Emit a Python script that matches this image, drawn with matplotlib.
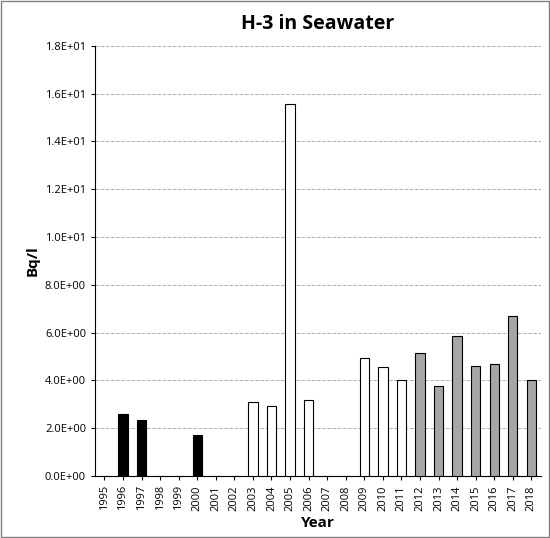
import numpy as np
import matplotlib.pyplot as plt

years = list(range(1995, 2019))
values = [0, 2.6, 2.35, 0, 0, 1.7, 0, 0, 3.1, 2.95, 15.55, 3.2, 0, 0,
          4.95, 4.55, 4.0, 5.15, 3.75, 5.85, 4.6, 4.7, 6.7, 4.0]

def bar_color(y):
    if y <= 2000:
        return 'black'
    if y <= 2011:
        return 'white'
    return '#a6a6a6'

def sci(v):
    if v == 0:
        return '0.0E+00'
    e = int(np.floor(np.log10(v)))
    return '%.1fE+%02d' % (v / 10 ** e, e)

plt.rcParams['font.family'] = ['Open Sans', 'DejaVu Sans']
fig = plt.figure(figsize=(5.5, 5.38), dpi=100)
ax = fig.add_axes([0.173, 0.115, 0.81, 0.8])
x = np.arange(len(years))
ax.bar(x, values, width=0.5, color=[bar_color(y) for y in years],
       edgecolor='black', linewidth=0.8, zorder=3)
ax.set_xlim(-0.5, len(years) - 0.5)
ax.set_ylim(0, 18)
yt = np.arange(0, 19, 2)
ax.set_yticks(yt)
ax.set_yticklabels([sci(v) for v in yt], fontsize=8)
ax.set_xticks(x)
ax.set_xticklabels([str(y) for y in years], rotation=90, fontsize=8)
ax.grid(axis='y', linestyle='--', color='#b0b0b0', linewidth=0.7, zorder=0)
for s in ['top', 'right']:
    ax.spines[s].set_visible(False)
ax.tick_params(axis='x', length=3)
ax.tick_params(axis='y', length=3)
ax.set_xlabel('Year', fontsize=11, fontweight='bold')
ax.set_ylabel('Bq/l', fontsize=11, fontweight='bold')
ax.set_title('H-3 in Seawater', fontsize=14, fontweight='bold', pad=12)
fig.patches.append(plt.Rectangle((0.002, 0.002), 0.996, 0.996, transform=fig.transFigure,
                                 fill=False, edgecolor='#808080', linewidth=1))
fig.savefig('out.png', dpi=100)
